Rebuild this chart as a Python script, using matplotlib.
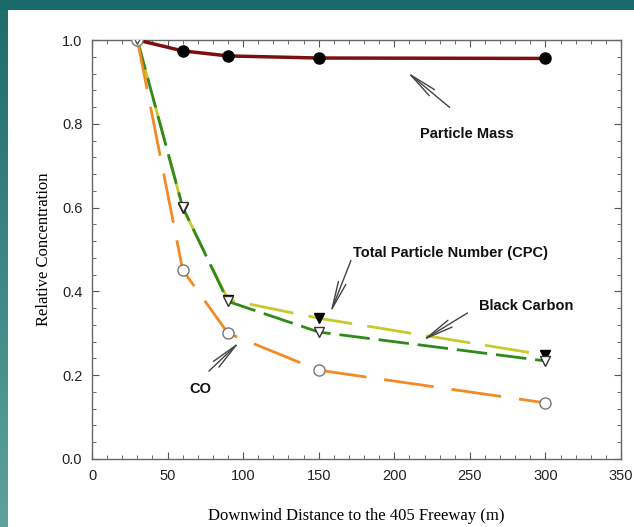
import numpy as np
import matplotlib
matplotlib.use("Agg")
from matplotlib import pyplot as plt
from matplotlib.patches import Rectangle

# distances (m) and relative concentrations
dist = [30, 60, 90, 150, 300]
mass = [1.0, 0.974, 0.962, 0.957, 0.956]
cpc = [1.0, 0.60, 0.38, 0.336, 0.248]
bc = [1.0, 0.601, 0.376, 0.303, 0.234]
co = [1.0, 0.451, 0.30, 0.212, 0.134]

xticks = [0, 50, 100, 150, 200, 250, 300, 350]
yticks = [0.0, 0.2, 0.4, 0.6, 0.8, 1.0]

fig = plt.figure(figsize=(6.34, 5.27), dpi=100)
fig.patch.set_facecolor("#1b6a6b")
# white slide panel
fig.patches.append(Rectangle((8/634, 0), 1, 1 - 10/527, transform=fig.transFigure,
                             facecolor="white", edgecolor="none", zorder=-10))
# left strip gets lighter toward the bottom
strip = fig.add_axes([0, 0, 8/634, 1 - 10/527])
grad = np.linspace(0, 1, 100).reshape(-1, 1)
strip.imshow(grad, aspect="auto", cmap=matplotlib.colors.LinearSegmentedColormap.from_list(
    "t", ["#1e6c6c", "#5da19c"]), origin="upper")
strip.axis("off")

ax = fig.add_axes([92/634, 1 - 459/527, (621-92)/634, (459-40)/527])
ax.set_facecolor("white")

ax.plot(dist, cpc, color="#c8c92c", lw=2, dashes=(16, 5.5), zorder=2)
ax.plot(dist, bc, color="#2f8a1c", lw=2, dashes=(11, 3.2), zorder=3)
ax.plot(dist, co, color="#f28a26", lw=2, dashes=(18, 6.5), zorder=3)
ax.plot(dist, mass, color="#7a1012", lw=2.5, zorder=4)

ax.plot(dist[1:], mass[1:], "o", color="black", ms=8, zorder=6)
ax.plot(dist[1:], cpc[1:], "v", mfc="black", mec="black", ms=7.5, zorder=6)
ax.plot(dist[1:], bc[1:], "v", mfc="white", mec="#333333", ms=7.5, mew=1, zorder=6)
ax.plot(dist[1:], co[1:], "o", mfc="white", mec="#777777", ms=8, mew=1, zorder=6)
ax.plot(dist[0], co[0], "o", mfc="white", mec="#777777", ms=8, mew=1, zorder=7)
ax.plot(dist[0], bc[0], "v", mfc="white", mec="#555555", ms=6, mew=1, zorder=7)

ax.set_xlim(0, 350)
ax.set_ylim(0, 1.0)
ax.set_xticks(xticks)
ax.set_yticks(yticks)
ax.set_yticklabels(["%.1f" % v for v in yticks])
ax.set_xticks(np.arange(0, 351, 10), minor=True)
ax.set_yticks(np.arange(0, 1.001, 0.04), minor=True)
ax.tick_params(which="both", direction="in", top=True, right=True, color="#555555")
ax.tick_params(which="major", length=5, labelsize=10.5, pad=7)
ax.tick_params(which="minor", length=3)
for lab in ax.get_xticklabels() + ax.get_yticklabels():
    lab.set_family("Liberation Sans")
    lab.set_color("#222222")
for s in ax.spines.values():
    s.set_color("#666666")
    s.set_linewidth(1)

ax.set_xlabel("Downwind Distance to the 405 Freeway (m)", family="Liberation Serif",
              fontsize=12, labelpad=18)
ax.set_ylabel("Relative Concentration", family="Liberation Serif", fontsize=12, labelpad=7)

arrow = dict(arrowstyle="->,head_length=0.9,head_width=0.13", color="#444444", lw=1,
             mutation_scale=22)
tfont = dict(family="Liberation Sans", fontweight="bold", fontsize=10.5, color="#111111")
ax.annotate("", xy=(207, 0.928), xytext=(238, 0.835), arrowprops=arrow)
ax.text(248, 0.776, "Particle Mass", ha="center", va="center", **tfont)
ax.annotate("", xy=(157, 0.342), xytext=(172, 0.48), arrowprops=arrow)
ax.text(173, 0.492, "Total Particle Number (CPC)", ha="left", va="center", **tfont)
ax.annotate("", xy=(217, 0.279), xytext=(250, 0.352), arrowprops=arrow)
ax.text(256, 0.365, "Black Carbon", ha="left", va="center", **tfont)
ax.annotate("", xy=(99, 0.284), xytext=(76, 0.205), arrowprops=arrow)
ax.text(72, 0.168, "CO", ha="center", va="center", **tfont)

fig.savefig("out.png", dpi=100)
